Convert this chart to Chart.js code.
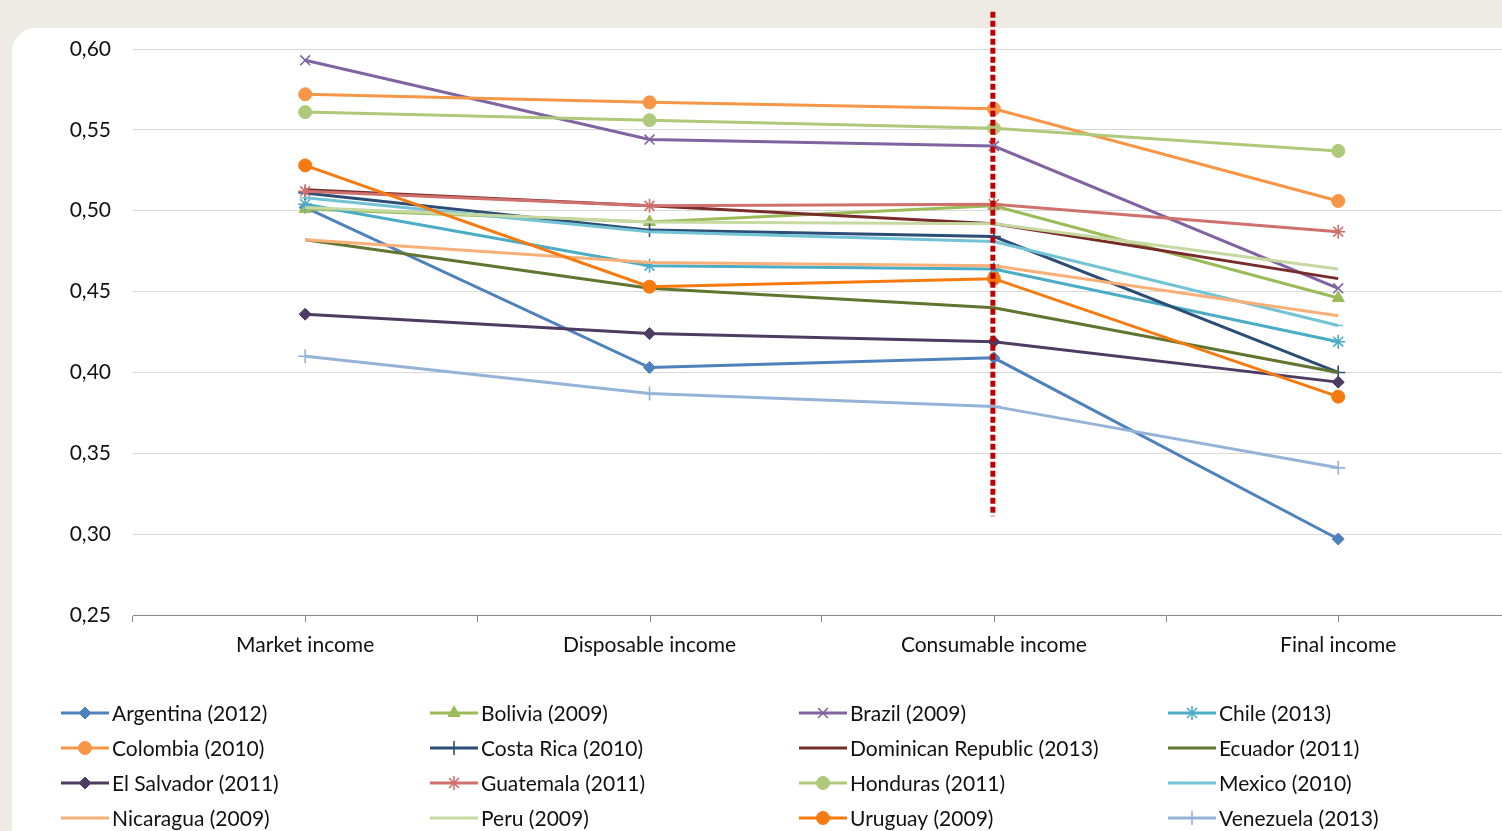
<!DOCTYPE html>
<html>
<head>
<meta charset="utf-8">
<script src="https://cdn.jsdelivr.net/npm/chart.js@4.4.1/dist/chart.umd.min.js"></script>
<style>
  html, body { margin: 0; padding: 0; width: 1502px; height: 831px; overflow: hidden; background: #EEEBE4; }
  #panel { position: absolute; left: 12px; top: 28px; width: 1520px; height: 840px; background: #ffffff; border-top-left-radius: 24px; }
  #wrap { position: absolute; left: 0; top: 0; width: 1519px; height: 831px; }
</style>
</head>
<body>
<div id="panel"></div>
<div id="wrap"><canvas id="c"></canvas></div>
<script>
// Income concepts along the horizontal axis
const categories = ['Market income', 'Disposable income', 'Consumable income', 'Final income'];

// Gini coefficient by income concept
const argentina  = [0.502, 0.403, 0.409, 0.297];
const bolivia    = [0.501, 0.493, 0.503, 0.446];
const brazil     = [0.593, 0.544, 0.540, 0.452];
const chile      = [0.504, 0.466, 0.464, 0.419];
const colombia   = [0.572, 0.567, 0.563, 0.506];
const costaRica  = [0.511, 0.488, 0.484, 0.400];
const dominican  = [0.513, 0.503, 0.492, 0.458];
const ecuador    = [0.482, 0.452, 0.440, 0.400];
const elSalvador = [0.436, 0.424, 0.419, 0.394];
const guatemala  = [0.512, 0.503, 0.504, 0.487];
const honduras   = [0.561, 0.556, 0.551, 0.537];
const mexico     = [0.508, 0.487, 0.481, 0.429];
const nicaragua  = [0.482, 0.468, 0.466, 0.435];
const peru       = [0.502, 0.493, 0.492, 0.464];
const uruguay    = [0.528, 0.453, 0.458, 0.385];
const venezuela  = [0.410, 0.387, 0.379, 0.341];

const seriesNames = [
  'Argentina (2012)', 'Bolivia (2009)', 'Brazil (2009)', 'Chile (2013)',
  'Colombia (2010)', 'Costa Rica (2010)', 'Dominican Republic (2013)', 'Ecuador (2011)',
  'El Salvador (2011)', 'Guatemala (2011)', 'Honduras (2011)', 'Mexico (2010)',
  'Nicaragua (2009)', 'Peru (2009)', 'Uruguay (2009)', 'Venezuela (2013)'
];
const seriesValues = [
  argentina, bolivia, brazil, chile, colombia, costaRica, dominican, ecuador,
  elSalvador, guatemala, honduras, mexico, nicaragua, peru, uruguay, venezuela
];

// Axis range and ticks
const yMin = 0.25, yMax = 0.60, yStep = 0.05;
// Reference line: spans the consumable income column
const markerCategory = 'Consumable income';
const markerFrom = 0.311, markerTo = 0.623;

// Styling per series: colour, point style, point radius
const styles = [
  ['#4F81BD', 'rectRot', 6],
  ['#9BBB59', 'triangle', 7],
  ['#8064A2', 'crossRot', 7],
  ['#4BACC6', 'star', 7],
  ['#F79646', 'circle', 6.5],
  ['#2C4D75', 'cross', 7],
  ['#772C2A', 'circle', 0],
  ['#5F7530', 'circle', 0],
  ['#4D3B62', 'rectRot', 6],
  ['#D0706D', 'star', 7],
  ['#AFC97A', 'circle', 6.5],
  ['#72C3D6', 'line', 5],
  ['#F9AF78', 'line', 0],
  ['#C6D9A0', 'circle', 0],
  ['#F57A10', 'circle', 6.5],
  ['#95B3D7', 'cross', 7]
];

const FONT = 'Lato, "Open Sans", sans-serif';
const FONT_SIZE = 21;

const datasets = seriesNames.map((name, i) => {
  const [color, style, r] = styles[i];
  const thin = (style === 'cross' || style === 'crossRot' || style === 'star' || style === 'line');
  return {
    label: name,
    data: seriesValues[i],
    borderColor: color,
    backgroundColor: color,
    borderWidth: 3,
    tension: 0,
    pointStyle: style,
    pointRadius: r,
    pointHoverRadius: r,
    pointBorderWidth: thin ? 1.6 : 1,
    pointBorderColor: color,
    pointBackgroundColor: color,
    order: seriesNames.length - i
  };
});

function drawMarker(ctx, style, r, x, y, color) {
  if (!r) return;
  ctx.save();
  ctx.fillStyle = color;
  ctx.strokeStyle = color;
  const thin = (style === 'cross' || style === 'crossRot' || style === 'star' || style === 'line');
  ctx.lineWidth = thin ? 1.6 : 1;
  if (Chart.helpers && Chart.helpers.drawPoint) {
    Chart.helpers.drawPoint(ctx, { pointStyle: style, rotation: 0, radius: r, borderWidth: ctx.lineWidth }, x, y);
  }
  ctx.restore();
}

// Four-column legend under the axis
const gridLegend = {
  id: 'gridLegend',
  afterDraw(chart) {
    const ctx = chart.ctx;
    const colX = [61, 430, 799, 1168];
    const rowY = [713, 748, 783, 818];
    ctx.save();
    ctx.font = FONT_SIZE + 'px ' + FONT;
    ctx.textBaseline = 'middle';
    ctx.textAlign = 'left';
    chart.data.datasets.forEach((ds, i) => {
      const x = colX[i % 4], y = rowY[Math.floor(i / 4)];
      ctx.strokeStyle = ds.borderColor;
      ctx.lineWidth = 3;
      ctx.beginPath();
      ctx.moveTo(x, y);
      ctx.lineTo(x + 48, y);
      ctx.stroke();
      drawMarker(ctx, ds.pointStyle, ds.pointRadius, x + 24, y, ds.borderColor);
      ctx.fillStyle = '#111111';
      ctx.fillText(ds.label, x + 51, y + 1);
    });
    ctx.restore();
  }
};

// Tick marks under each category and the dotted red reference line
const extras = {
  id: 'extras',
  afterDraw(chart) {
    const ctx = chart.ctx;
    const xs = chart.scales.x, ys = chart.scales.y;
    ctx.save();
    ctx.strokeStyle = '#878787';
    ctx.lineWidth = 1;
    categories.forEach((c, i) => {
      const px = Math.round(xs.getPixelForValue(i)) + 0.5;
      ctx.beginPath();
      ctx.moveTo(px, ys.bottom);
      ctx.lineTo(px, ys.bottom + 7);
      ctx.stroke();
    });
    const mx = xs.getPixelForValue(categories.indexOf(markerCategory)) - 1;
    ctx.strokeStyle = '#C00000';
    ctx.lineWidth = 5;
    ctx.lineCap = 'butt';
    ctx.setLineDash([6, 3]);
    ctx.beginPath();
    ctx.moveTo(mx, ys.getPixelForValue(markerTo));
    ctx.lineTo(mx, ys.getPixelForValue(markerFrom));
    ctx.stroke();
    ctx.restore();
  }
};

new Chart(document.getElementById('c'), {
  type: 'line',
  data: { labels: categories, datasets },
  options: {
    responsive: true,
    maintainAspectRatio: false,
    animation: false,
    events: [],
    layout: { padding: { left: 0, right: 5, top: 49, bottom: 156 } },
    plugins: { legend: { display: false }, tooltip: { enabled: false } },
    scales: {
      x: {
        offset: true,
        grid: { display: true, drawOnChartArea: false, drawTicks: true, tickLength: 7, offset: true, color: '#878787' },
        border: { display: true, color: '#878787', width: 1 },
        ticks: { color: '#111111', font: { family: FONT, size: FONT_SIZE }, padding: 11, maxRotation: 0 },
        afterFit(scale) { scale.height = 60; }
      },
      y: {
        min: yMin, max: yMax,
        grid: { color: '#D9D9D9', drawTicks: false },
        border: { display: false },
        ticks: {
          stepSize: yStep,
          color: '#111111',
          font: { family: FONT, size: FONT_SIZE },
          padding: 22,
          callback: v => v.toFixed(2).replace('.', ',')
        },
        afterFit(scale) { scale.width = 133; }
      }
    }
  },
  plugins: [gridLegend, extras]
});
</script>
</body>
</html>
